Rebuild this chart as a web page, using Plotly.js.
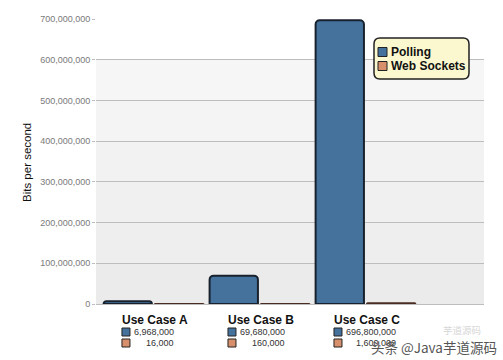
<!DOCTYPE html>
<html>
<head>
<meta charset="utf-8">
<script src="https://cdn.plot.ly/plotly-3.0.1.min.js"></script>
<style>html,body{margin:0;padding:0;background:#fff;}#chart{width:503px;height:360px;}</style>
</head>
<body>
<div id="chart"></div>
<script>
// ---- data ----
var categories = ["Use Case A", "Use Case B", "Use Case C"];
var pollingValues = [6968000, 69680000, 696800000];
var websocketValues = [16000, 160000, 1600000];
var seriesNames = ["Polling", "Web Sockets"];
var yTickValues = [0, 100000000, 200000000, 300000000, 400000000, 500000000, 600000000, 700000000];
var yTitle = "Bits per second";
var watermarkMain = "头条 @Java芋道源码";
var watermarkFaint = "芋道源码";

// ---- layout helpers ----
var W = 503, H = 360, L = 96, R = 19, T = 19, B = 56;
var pw = W - L - R, ph = H - T - B;
function px(x) { return (x - L) / pw; }
function py(y) { return (H - B - y) / ph; }

var colors = ["#44729c", "#d8906c"];
var borders = ["#18222e", "#4a2c22"];
var font = "Liberation Sans, Arial, Helvetica, sans-serif";

var traces = [
  {type: "bar", name: seriesNames[0], x: categories, y: pollingValues,
   marker: {color: colors[0], line: {color: borders[0], width: 2}, cornerradius: 4},
   hoverinfo: "none"},
  {type: "bar", name: seriesNames[1], x: categories, y: websocketValues,
   marker: {color: colors[1], line: {color: borders[1], width: 2}, cornerradius: 4},
   hoverinfo: "none"}
];

var shapes = [];
var annotations = [];

// background bands
var bandColors = ["#ebebeb", "#eeeeee", "#f0f0f0", "#f2f2f2", "#f4f4f4", "#f6f6f6"];
for (var k = 0; k < 6; k++) {
  shapes.push({type: "rect", xref: "paper", yref: "y", x0: 0, x1: 1,
    y0: yTickValues[k], y1: yTickValues[k + 1], fillcolor: bandColors[k],
    line: {width: 0}, layer: "below"});
}

// legend box (rounded)
function roundedRect(x0, y0, x1, y1, r) {
  function P(x, y) { return px(x).toFixed(5) + "," + py(y).toFixed(5); }
  return "M" + P(x0 + r, y0) + " L" + P(x1 - r, y0) + " Q" + P(x1, y0) + " " + P(x1, y0 + r) +
    " L" + P(x1, y1 - r) + " Q" + P(x1, y1) + " " + P(x1 - r, y1) +
    " L" + P(x0 + r, y1) + " Q" + P(x0, y1) + " " + P(x0, y1 - r) +
    " L" + P(x0, y0 + r) + " Q" + P(x0, y0) + " " + P(x0 + r, y0) + " Z";
}
shapes.push({type: "path", xref: "paper", yref: "paper", path: roundedRect(374, 38, 469, 79, 6),
  fillcolor: "#fbf8cf", line: {color: "#222", width: 1.5}, layer: "above"});
for (var s = 0; s < 2; s++) {
  var yc = 52 + s * 14;
  shapes.push({type: "rect", xref: "paper", yref: "paper",
    x0: px(378), x1: px(387), y0: py(yc + 4.5), y1: py(yc - 4.5),
    fillcolor: colors[s], line: {color: "#222", width: 1}, layer: "above"});
  annotations.push({xref: "paper", yref: "paper", x: px(389), y: py(yc), xanchor: "left", yanchor: "middle",
    text: "<b>" + seriesNames[s] + "</b>", showarrow: false, font: {family: font, size: 12, color: "#111"}});
}

// data table under the plot
function textWidth9(str) {
  var w = 0;
  for (var c = 0; c < str.length; c++) w += (str[c] === ",") ? 2.5 : 5.0;
  return w;
}
for (var i = 0; i < categories.length; i++) {
  annotations.push({xref: "x", yref: "paper", x: i, xshift: -33, y: py(320), xanchor: "left", yanchor: "middle",
    text: "<b>" + categories[i] + "</b>", showarrow: false, font: {family: font, size: 12, color: "#111"}});
  var labels = [pollingValues[i].toLocaleString("en-US"), websocketValues[i].toLocaleString("en-US")];
  var colW = Math.max(textWidth9(labels[0]), textWidth9(labels[1]));
  for (var s2 = 0; s2 < 2; s2++) {
    var yr = 332 + s2 * 11;
    shapes.push({type: "rect", xref: "x", yref: "paper", xsizemode: "pixel", xanchor: i,
      x0: -31.5, x1: -23.5, y0: py(yr + 4), y1: py(yr - 4),
      fillcolor: colors[s2], line: {color: "#222", width: 1}});
    annotations.push({xref: "x", yref: "paper", x: i, xshift: -17 + colW, y: py(yr), xanchor: "right", yanchor: "middle",
      text: labels[s2], showarrow: false,
      font: {family: font, size: 9, color: "#333"}});
  }
}

// y title
annotations.push({xref: "paper", yref: "paper", x: px(27), y: py(163), xanchor: "center", yanchor: "middle",
  text: yTitle, textangle: -90, showarrow: false, font: {family: font, size: 11.5, color: "#111"}});

// watermark
annotations.push({xref: "paper", yref: "paper", x: px(441), y: py(330), xanchor: "left", yanchor: "middle",
  text: watermarkFaint, showarrow: false,
  font: {family: "Noto Sans CJK SC, sans-serif", size: 9.5, color: "#d6d6d6"}});
annotations.push({xref: "paper", yref: "paper", x: px(369), y: py(347), xanchor: "left", yanchor: "middle",
  text: watermarkMain, showarrow: false,
  font: {family: "Noto Sans CJK SC, sans-serif", size: 13.5, color: "#555"}});

var layout = {
  width: W, height: H,
  margin: {l: L, r: R, t: T, b: B, pad: 0},
  paper_bgcolor: "#ffffff", plot_bgcolor: "#ffffff",
  showlegend: false,
  barmode: "group", bargap: 0.03, bargroupgap: 0.06,
  xaxis: {type: "category", range: [-0.542, 3.118], showticklabels: false, showgrid: false,
    zeroline: false, showline: false, ticks: ""},
  yaxis: {range: [0, 700000000], tickvals: yTickValues, tickformat: ",d",
    showgrid: true, gridcolor: "#bdbdbd", gridwidth: 1,
    zeroline: true, zerolinecolor: "#bdbdbd", zerolinewidth: 1,
    ticks: "outside", ticklen: 3, tickcolor: "#bdbdbd",
    tickfont: {family: font, size: 9, color: "#7a7a7a"}, showline: false},
  shapes: shapes,
  annotations: annotations
};

Plotly.newPlot("chart", traces, layout, {staticPlot: true, displayModeBar: false});
</script>
</body>
</html>
